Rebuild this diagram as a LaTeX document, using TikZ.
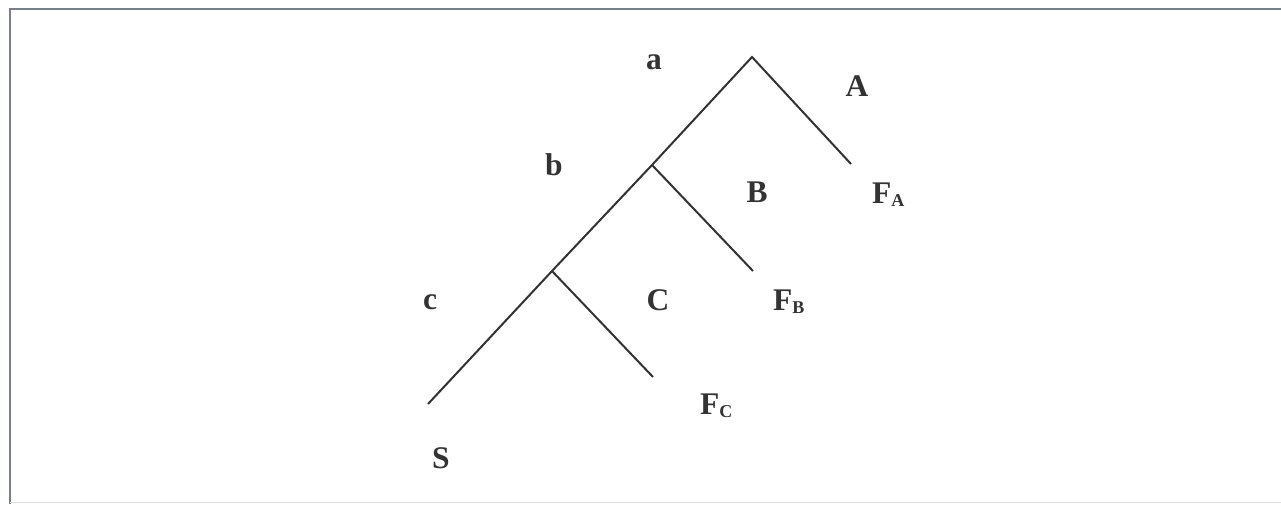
\documentclass[tikz,border=0pt]{standalone}
\usepackage{fontspec}
\setmainfont{Liberation Serif}
\definecolor{ink}{HTML}{333333}
\definecolor{frame}{HTML}{7A8088}
\newcommand{\sub}[1]{\raisebox{-3.5pt}{\fontsize{18}{18}\selectfont #1}}
\tikzset{
  lbl/.style={inner sep=0pt, anchor=base, text=ink, font=\fontsize{31.5}{32}\selectfont\bfseries},
  flbl/.style={lbl, anchor=base west},
  edge/.style={draw=ink, line width=2pt}
}
\begin{document}
\begin{tikzpicture}[x=1pt,y=-1pt]
\useasboundingbox (0,0) rectangle (1281,504);
\draw[frame, line width=2pt] (10,504) -- (10,9) -- (1281,9);
\draw[frame!25, line width=1pt] (10,502) -- (1281,502);
% tree vertices
\coordinate (top) at (752,57);
\coordinate (jb) at (652,165);
\coordinate (jc) at (552,271);
\coordinate (s) at (428,404);
\coordinate (ea) at (851,164);
\coordinate (eb) at (753,271);
\coordinate (ec) at (653,377);
\draw[edge] (s) -- (jc) -- (jb) -- (top) -- (ea);
\draw[edge] (jb) -- (eb);
\draw[edge] (jc) -- (ec);
% labels
\node[lbl] (la) at (654,69) {a};
\node[lbl] (lA) at (857,96) {A};
\node[lbl] (lb) at (554,175) {b};
\node[lbl] (lB) at (757,202) {B};
\node[flbl] (lFA) at (872,203) {F\sub{A}};
\node[lbl] (lc) at (430,309) {c};
\node[lbl] (lC) at (658,310) {C};
\node[flbl] (lFB) at (773,310) {F\sub{B}};
\node[flbl] (lFC) at (700,414) {F\sub{C}};
\node[lbl] (lS) at (441,468) {S};
\end{tikzpicture}
\end{document}
